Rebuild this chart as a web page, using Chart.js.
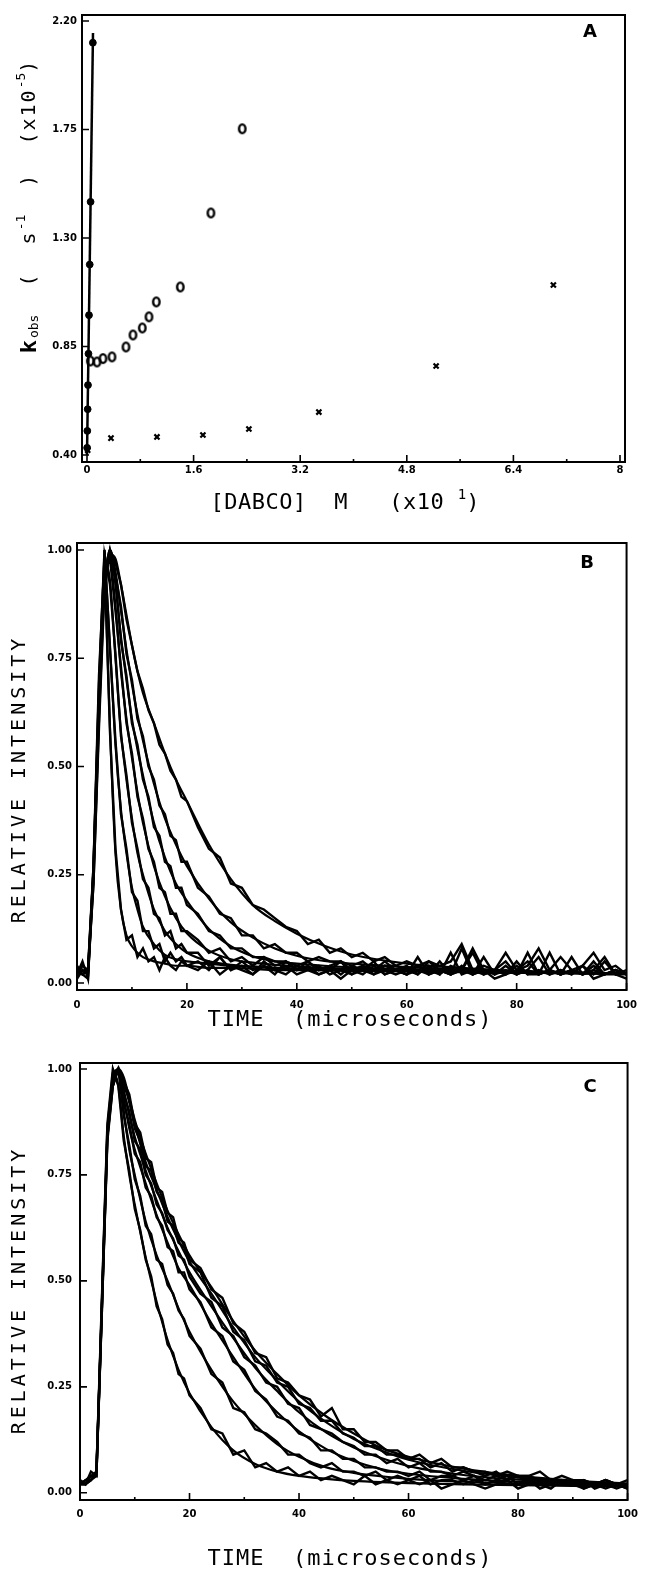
<!DOCTYPE html>
<html>
<head>
<meta charset="utf-8">
<script src="https://cdn.jsdelivr.net/npm/chart.js@4.4.1/dist/chart.umd.min.js"></script>
<style>
  html, body { margin: 0; padding: 0; background: #fff; }
  body { width: 646px; height: 1581px; position: relative; overflow: hidden; }
  .panel { position: absolute; left: 0; width: 646px; }
  .panel canvas { display: block; }
</style>
</head>
<body>
<div class="panel" style="top:0;height:520px"><canvas id="chartA"></canvas></div>
<div class="panel" style="top:520px;height:525px"><canvas id="chartB"></canvas></div>
<div class="panel" style="top:1045px;height:536px"><canvas id="chartC"></canvas></div>
<script>
// ---- panel A : kobs vs [DABCO] ----
const aXTicks = [0, 1.6, 3.2, 4.8, 6.4, 8];
const aYTicks = [0.40, 0.85, 1.30, 1.75, 2.20];
const aDotX = [0.002, 0.005, 0.010, 0.015, 0.022, 0.030, 0.041, 0.054, 0.088];
const aDotY = [0.43, 0.50, 0.59, 0.69, 0.82, 0.98, 1.19, 1.45, 2.11];
const aFitX = [0, 0.09];
const aFitY = [0.40, 2.15];
const aCircX = [0.05, 0.15, 0.24, 0.375, 0.585, 0.69, 0.83, 0.93, 1.04, 1.40, 1.86, 2.33];
const aCircY = [0.79, 0.786, 0.80, 0.807, 0.848, 0.898, 0.927, 0.973, 1.035, 1.097, 1.404, 1.753];
const aCrossX = [0.01, 0.36, 1.05, 1.74, 2.43, 3.48, 5.24, 7.0];
const aCrossY = [0.42, 0.47, 0.475, 0.483, 0.508, 0.578, 0.769, 1.105];

// ---- panels B and C : decay traces ----
const timeTicks = [0, 20, 40, 60, 80, 100];
const intensityTicks = [0, 0.25, 0.5, 0.75, 1.0];
const tData = [0,1,2,3,4,5,6,7,8,9,10,11,12,13,14,15,16,17,18,19,20,
  22,24,26,28,30,32,34,36,38,40,42,44,46,48,50,52,54,56,58,60,
  62,64,66,68,70,72,74,76,78,80,82,84,86,88,90,92,94,96,98,100];
const tFitB = [5,6,7,8,9,10,11,12,14,16,18,20,24,28,32,36,40,45,50,60,70,80,100];
const tFitC = [6,7,8,9,10,12,14,16,18,20,24,28,32,36,40,45,50,55,60,70,80,90,100];

const bTrace1 = [0.02,0.05,0.01,0.27,0.71,0.98,0.58,0.31,0.17,0.10,0.11,0.06,0.08,0.05,0.06,0.03,0.06,0.04,0.03,0.05,0.04,
  0.03,0.05,0.02,0.04,0.03,0.02,0.04,0.03,0.02,0.04,0.03,0.02,0.03,0.01,0.03,0.02,0.04,0.02,0.03,0.02,
  0.06,0.02,0.03,0.02,0.04,0.02,0.03,0.01,0.02,0.05,0.02,0.03,0.02,0.03,0.02,0.04,0.01,0.02,0.03,0.02];
const bTrace2 = [0.03,0.02,0.03,0.26,0.69,1.00,0.77,0.56,0.39,0.31,0.21,0.19,0.12,0.12,0.08,0.09,0.05,0.07,0.05,0.06,0.04,
  0.05,0.03,0.06,0.03,0.04,0.02,0.05,0.03,0.04,0.02,0.03,0.04,0.02,0.03,0.02,0.04,0.02,0.03,0.02,0.03,
  0.02,0.04,0.02,0.07,0.02,0.03,0.02,0.03,0.02,0.04,0.02,0.02,0.03,0.02,0.06,0.02,0.03,0.02,0.02,0.01];
const bTrace3 = [0.04,0.02,0.03,0.27,0.67,0.99,0.92,0.76,0.57,0.48,0.37,0.31,0.24,0.22,0.16,0.15,0.11,0.12,0.08,0.09,0.07,
  0.07,0.04,0.06,0.03,0.05,0.03,0.04,0.02,0.05,0.03,0.04,0.02,0.03,0.05,0.02,0.03,0.02,0.04,0.03,0.02,
  0.03,0.02,0.05,0.02,0.03,0.07,0.02,0.03,0.02,0.03,0.05,0.02,0.03,0.02,0.03,0.02,0.05,0.02,0.03,0.02];
const bTrace4 = [0.01,0.03,0.02,0.26,0.65,0.96,0.98,0.86,0.73,0.60,0.53,0.43,0.38,0.31,0.28,0.22,0.21,0.16,0.16,0.12,0.12,
  0.10,0.07,0.08,0.05,0.06,0.04,0.06,0.04,0.05,0.03,0.05,0.03,0.04,0.02,0.04,0.03,0.05,0.02,0.03,0.02,
  0.04,0.02,0.03,0.02,0.08,0.02,0.03,0.02,0.04,0.02,0.03,0.06,0.02,0.03,0.02,0.04,0.02,0.05,0.02,0.02];
const bTrace5 = [0.03,0.02,0.01,0.25,0.63,0.94,0.99,0.93,0.79,0.71,0.60,0.55,0.47,0.43,0.36,0.34,0.28,0.27,0.22,0.22,0.18,
  0.16,0.12,0.11,0.08,0.08,0.06,0.06,0.05,0.05,0.04,0.05,0.03,0.04,0.05,0.03,0.04,0.03,0.05,0.03,0.04,
  0.02,0.05,0.03,0.02,0.03,0.02,0.06,0.02,0.03,0.02,0.07,0.02,0.03,0.02,0.03,0.02,0.03,0.06,0.02,0.03];
const bTrace6 = [0.02,0.03,0.02,0.23,0.61,0.93,1.00,0.94,0.87,0.76,0.70,0.61,0.57,0.50,0.47,0.41,0.39,0.34,0.33,0.28,0.28,
  0.22,0.20,0.16,0.15,0.11,0.11,0.08,0.09,0.07,0.07,0.05,0.06,0.05,0.05,0.04,0.05,0.03,0.04,0.04,0.03,
  0.04,0.03,0.02,0.04,0.03,0.08,0.03,0.03,0.05,0.02,0.03,0.02,0.07,0.02,0.03,0.02,0.04,0.02,0.03,0.02];
const bTrace7 = [0.02,0.04,0.03,0.23,0.59,0.91,1.00,0.97,0.92,0.84,0.78,0.72,0.68,0.63,0.60,0.55,0.53,0.49,0.47,0.43,0.42,
  0.36,0.31,0.29,0.23,0.22,0.18,0.17,0.15,0.13,0.12,0.09,0.10,0.07,0.08,0.06,0.07,0.05,0.06,0.04,0.05,
  0.04,0.05,0.04,0.05,0.09,0.03,0.04,0.03,0.07,0.03,0.04,0.08,0.03,0.06,0.03,0.04,0.07,0.03,0.04,0.02];

const bFit1 = [0.98,0.59,0.30,0.17,0.11,0.085,0.07,0.06,0.05,0.045,0.04,0.04,0.035,0.035,0.033,0.03,0.03,0.03,0.028,0.027,0.025,0.024,0.022];
const bFit2 = [1.0,0.78,0.55,0.40,0.30,0.22,0.17,0.13,0.09,0.065,0.055,0.05,0.045,0.04,0.038,0.035,0.033,0.03,0.03,0.028,0.026,0.024,0.022];
const bFit3 = [0.98,0.93,0.75,0.58,0.47,0.38,0.30,0.25,0.17,0.12,0.09,0.07,0.05,0.042,0.038,0.035,0.033,0.031,0.03,0.028,0.026,0.024,0.022];
const bFit4 = [0.97,0.97,0.87,0.72,0.61,0.52,0.44,0.37,0.27,0.20,0.15,0.115,0.075,0.055,0.047,0.042,0.038,0.035,0.033,0.03,0.027,0.025,0.022];
const bFit5 = [0.93,1.0,0.92,0.80,0.70,0.61,0.54,0.48,0.37,0.29,0.23,0.19,0.125,0.085,0.062,0.05,0.045,0.04,0.036,0.032,0.028,0.025,0.022];
const bFit6 = [0.92,1.0,0.95,0.86,0.77,0.69,0.62,0.56,0.46,0.38,0.32,0.27,0.195,0.14,0.105,0.08,0.063,0.051,0.045,0.037,0.031,0.027,0.022];
const bFit7 = [0.90,0.99,0.98,0.92,0.85,0.78,0.72,0.67,0.60,0.53,0.47,0.42,0.32,0.24,0.18,0.143,0.114,0.086,0.066,0.045,0.035,0.028,0.022];

const cTrace1 = [0.02,0.03,0.04,0.05,0.46,0.87,1.00,0.96,0.83,0.76,0.67,0.62,0.55,0.51,0.44,0.41,0.35,0.33,0.28,0.27,0.23,
  0.20,0.15,0.14,0.09,0.10,0.06,0.07,0.05,0.06,0.04,0.05,0.03,0.04,0.03,0.02,0.04,0.02,0.03,0.02,0.03,
  0.02,0.03,0.01,0.02,0.03,0.02,0.01,0.02,0.03,0.01,0.02,0.02,0.01,0.03,0.02,0.01,0.02,0.01,0.02,0.01];
const cTrace2 = [0.02,0.02,0.03,0.04,0.45,0.86,0.99,1.00,0.89,0.82,0.74,0.70,0.63,0.61,0.55,0.54,0.49,0.47,0.43,0.41,0.37,
  0.34,0.28,0.26,0.20,0.19,0.15,0.14,0.12,0.09,0.09,0.07,0.06,0.07,0.05,0.05,0.04,0.05,0.03,0.04,0.03,
  0.04,0.02,0.03,0.03,0.02,0.03,0.02,0.03,0.02,0.02,0.03,0.01,0.02,0.02,0.03,0.01,0.02,0.02,0.01,0.02];
const cTrace3 = [0.03,0.02,0.05,0.04,0.44,0.85,0.98,1.00,0.92,0.87,0.80,0.78,0.72,0.70,0.65,0.63,0.58,0.57,0.52,0.52,0.48,
  0.45,0.39,0.37,0.31,0.29,0.24,0.22,0.18,0.17,0.14,0.13,0.10,0.10,0.08,0.08,0.06,0.06,0.05,0.05,0.04,
  0.05,0.03,0.04,0.04,0.03,0.04,0.02,0.03,0.04,0.02,0.03,0.02,0.03,0.02,0.02,0.03,0.01,0.02,0.02,0.01];
const cTrace4 = [0.02,0.03,0.03,0.05,0.44,0.84,0.97,1.00,0.94,0.90,0.83,0.81,0.75,0.73,0.68,0.66,0.62,0.60,0.56,0.55,0.51,
  0.47,0.45,0.39,0.37,0.32,0.30,0.26,0.25,0.21,0.20,0.16,0.15,0.14,0.12,0.11,0.09,0.09,0.07,0.08,0.06,
  0.07,0.05,0.05,0.04,0.05,0.04,0.03,0.04,0.03,0.04,0.03,0.02,0.03,0.02,0.03,0.02,0.02,0.03,0.02,0.02];
const cTrace5 = [0.02,0.02,0.04,0.04,0.43,0.84,0.96,1.00,0.96,0.93,0.86,0.83,0.77,0.76,0.71,0.69,0.64,0.63,0.59,0.58,0.54,
  0.52,0.46,0.44,0.38,0.36,0.31,0.30,0.26,0.25,0.21,0.20,0.17,0.17,0.14,0.13,0.11,0.11,0.09,0.09,0.08,
  0.08,0.06,0.07,0.05,0.06,0.05,0.04,0.05,0.03,0.04,0.04,0.03,0.03,0.02,0.03,0.03,0.02,0.03,0.02,0.02];
const cTrace6 = [0.03,0.02,0.03,0.05,0.43,0.83,0.96,1.00,0.97,0.94,0.87,0.85,0.79,0.78,0.72,0.71,0.66,0.65,0.60,0.59,0.55,
  0.53,0.48,0.46,0.40,0.38,0.33,0.32,0.27,0.26,0.23,0.22,0.18,0.20,0.15,0.15,0.12,0.12,0.10,0.10,0.08,
  0.09,0.07,0.08,0.06,0.06,0.05,0.05,0.04,0.05,0.04,0.04,0.05,0.03,0.04,0.03,0.03,0.02,0.03,0.02,0.03];

const cFit1 = [1.0,0.96,0.84,0.75,0.68,0.555,0.45,0.36,0.29,0.235,0.155,0.10,0.068,0.05,0.04,0.033,0.028,0.025,0.023,0.02,0.018,0.016,0.015];
const cFit2 = [0.99,1.0,0.90,0.81,0.75,0.64,0.56,0.50,0.435,0.38,0.29,0.215,0.16,0.115,0.085,0.06,0.047,0.039,0.033,0.026,0.022,0.019,0.016];
const cFit3 = [0.98,1.0,0.93,0.86,0.81,0.73,0.655,0.59,0.53,0.49,0.40,0.32,0.245,0.19,0.145,0.103,0.075,0.056,0.045,0.033,0.026,0.021,0.018];
const cFit4 = [0.97,1.0,0.95,0.89,0.84,0.76,0.69,0.625,0.57,0.52,0.44,0.365,0.295,0.24,0.19,0.142,0.107,0.082,0.063,0.042,0.031,0.024,0.019];
const cFit5 = [0.96,1.0,0.97,0.92,0.87,0.78,0.715,0.65,0.595,0.545,0.47,0.39,0.32,0.265,0.215,0.166,0.127,0.10,0.078,0.052,0.036,0.026,0.02];
const cFit6 = [0.96,1.0,0.98,0.93,0.88,0.80,0.73,0.665,0.61,0.56,0.485,0.405,0.335,0.28,0.23,0.18,0.14,0.106,0.085,0.057,0.04,0.029,0.022];

// ---- helpers ----
const MONO = '"DejaVu Sans Mono", monospace';
const tickFont = { family: '"DejaVu Sans"', size: 10, weight: 'bold' };

function pts(xs, ys) {
  return xs.map((x, i) => ({ x: x, y: ys[i] }));
}
function lineSet(xs, ys, w, smooth) {
  return {
    data: pts(xs, ys), showLine: true, borderColor: '#000', borderWidth: w,
    pointRadius: 0, tension: 0, fill: false,
    cubicInterpolationMode: smooth ? 'monotone' : 'default'
  };
}

// open "0"-shaped marker like the plotter used
function ovalMarker() {
  const c = document.createElement('canvas');
  c.width = 11; c.height = 13;
  const g = c.getContext('2d');
  g.strokeStyle = '#000'; g.lineWidth = 2.4;
  g.beginPath(); g.ellipse(5.5, 6.5, 3.2, 4.4, 0, 0, Math.PI * 2); g.stroke();
  return c;
}

function drawRich(ctx, pieces, cx, cy, rotate) {
  ctx.save();
  ctx.translate(cx, cy);
  if (rotate) ctx.rotate(-Math.PI / 2);
  let total = 0;
  pieces.forEach(p => {
    ctx.font = p.font; ctx.letterSpacing = p.ls || '0px';
    p.w = ctx.measureText(p.text).width; total += p.w;
  });
  let x = -total / 2;
  ctx.textAlign = 'left'; ctx.textBaseline = 'middle'; ctx.fillStyle = '#000';
  pieces.forEach(p => {
    ctx.font = p.font; ctx.letterSpacing = p.ls || '0px';
    ctx.fillText(p.text, x, p.dy || 0);
    x += p.w;
  });
  ctx.restore();
}

const big = '20px ' + MONO, small = '13px ' + MONO;
const panelText = {
  A: {
    letter: ['A', 590, 32],
    xTitle: [[{ text: '[DABCO]  M   (x10 ', font: '22px ' + MONO, ls: '0.5px' },
              { text: '1', font: '14px ' + MONO, dy: -8 },
              { text: ')', font: '22px ' + MONO }], 345, 503],
    yTitle: [[{ text: 'k', font: 'bold 22px ' + MONO, ls: '2px' },
              { text: 'obs', font: small, dy: 5 },
              { text: '  (  s', font: big, ls: '2px' },
              { text: '-1', font: small, dy: -8 },
              { text: '  )  (x10', font: big, ls: '2px' },
              { text: '-5', font: small, dy: -8 },
              { text: ')', font: big }], 30, 207]
  },
  B: {
    letter: ['B', 587, 43],
    xTitle: [[{ text: 'TIME  (microseconds)', font: '22px ' + MONO, ls: '1px' }], 350, 500],
    yTitle: [[{ text: 'RELATIVE INTENSITY', font: '20px ' + MONO, ls: '4px' }], 20, 259]
  },
  C: {
    letter: ['C', 590, 42],
    xTitle: [[{ text: 'TIME  (microseconds)', font: '22px ' + MONO, ls: '1px' }], 350, 514],
    yTitle: [[{ text: 'RELATIVE INTENSITY', font: '20px ' + MONO, ls: '4px' }], 20, 245]
  }
};

// box round the plot, inward tick marks, titles and panel letter
const framePlugin = {
  id: 'frame',
  afterDatasetsDraw(chart, args, opts) {
    const { ctx, chartArea: a } = chart;
    const x = chart.scales.x, y = chart.scales.y;
    ctx.save();
    ctx.strokeStyle = '#000';
    ctx.lineWidth = 2;
    ctx.strokeRect(a.left, a.top, a.right - a.left, a.bottom - a.top);
    ctx.lineWidth = 1.6;
    ctx.beginPath();
    x.ticks.forEach(t => {
      const px = x.getPixelForValue(t.value);
      ctx.moveTo(px, a.bottom); ctx.lineTo(px, a.bottom - 7);
    });
    y.ticks.forEach(t => {
      const py = y.getPixelForValue(t.value);
      ctx.moveTo(a.left, py); ctx.lineTo(a.left + 7, py);
    });
    const step = x.ticks[1].value - x.ticks[0].value;
    x.ticks.slice(1).forEach(t => {
      const px = x.getPixelForValue(t.value - step / 2);
      ctx.moveTo(px, a.bottom); ctx.lineTo(px, a.bottom - 3);
    });
    ctx.stroke();
    ctx.restore();
  },
  afterDraw(chart, args, opts) {
    const txt = panelText[opts.key];
    const ctx = chart.ctx;
    drawRich(ctx, txt.xTitle[0], txt.xTitle[1], txt.xTitle[2], false);
    drawRich(ctx, txt.yTitle[0], txt.yTitle[1], txt.yTitle[2], true);
    ctx.save();
    ctx.font = 'bold 18px "DejaVu Sans"';
    ctx.textAlign = 'center'; ctx.textBaseline = 'middle'; ctx.fillStyle = '#000';
    ctx.fillText(txt.letter[0], txt.letter[1], txt.letter[2]);
    ctx.restore();
  }
};

function makeOptions(o) {
  return {
    responsive: true, maintainAspectRatio: false, animation: false,
    layout: { padding: { left: 0, right: o.padRight, top: o.padTop, bottom: 0 } },
    plugins: { legend: { display: false }, tooltip: { enabled: false }, frame: { key: o.key } },
    scales: {
      x: {
        type: 'linear', min: o.xMin, max: o.xMax,
        afterBuildTicks: s => { s.ticks = o.xTicks.map(v => ({ value: v })); },
        afterFit: s => { s.height = o.xHeight; },
        grid: { display: false, drawTicks: false }, border: { display: false },
        ticks: { autoSkip: false, maxRotation: 0, padding: o.xPad, color: '#000', font: tickFont,
                 callback: v => String(v) }
      },
      y: {
        type: 'linear', min: o.yMin, max: o.yMax,
        afterBuildTicks: s => { s.ticks = o.yTicks.map(v => ({ value: v })); },
        afterFit: s => { s.width = o.yWidth; },
        grid: { display: false, drawTicks: false }, border: { display: false },
        ticks: { autoSkip: false, padding: o.yPad, color: '#000', font: tickFont,
                 callback: v => v.toFixed(2) }
      }
    }
  };
}

// ---- chart A ----
new Chart(document.getElementById('chartA'), {
  type: 'scatter',
  data: {
    datasets: [
      lineSet(aFitX, aFitY, 2.5, false),
      { data: pts(aDotX, aDotY), pointStyle: 'circle', pointRadius: 3.4, backgroundColor: '#000', borderColor: '#000' },
      { data: pts(aCircX, aCircY), pointStyle: ovalMarker(), pointRadius: 5 },
      { data: pts(aCrossX, aCrossY), pointStyle: 'crossRot', pointRadius: 3.6, borderColor: '#000', borderWidth: 2.2 }
    ]
  },
  options: makeOptions({ key: 'A', padRight: 21, padTop: 15, xHeight: 58, yWidth: 82, xPad: 2, yPad: 5,
    xMin: -0.075, xMax: 8.075, yMin: 0.371, yMax: 2.225, xTicks: aXTicks, yTicks: aYTicks }),
  plugins: [framePlugin]
});

// ---- chart B ----
const bTraces = [bTrace1, bTrace2, bTrace3, bTrace4, bTrace5, bTrace6, bTrace7];
const bFits = [bFit1, bFit2, bFit3, bFit4, bFit5, bFit6, bFit7];
new Chart(document.getElementById('chartB'), {
  type: 'scatter',
  data: {
    datasets: bTraces.map(tr => lineSet(tData, tr, 2.4, false))
      .concat(bFits.map(f => lineSet(tFitB, f, 2.2, true)))
  },
  options: makeOptions({ key: 'B', padRight: 11, padTop: 23, xHeight: 55, yWidth: 77, xPad: 9, yPad: 5,
    xMin: 0, xMax: 100, yMin: -0.016, yMax: 1.016, xTicks: timeTicks, yTicks: intensityTicks }),
  plugins: [framePlugin]
});

// ---- chart C ----
const cTraces = [cTrace1, cTrace2, cTrace3, cTrace4, cTrace5, cTrace6];
const cFits = [cFit1, cFit2, cFit3, cFit4, cFit5, cFit6];
new Chart(document.getElementById('chartC'), {
  type: 'scatter',
  data: {
    datasets: cTraces.map(tr => lineSet(tData, tr, 2.4, false))
      .concat(cFits.map(f => lineSet(tFitC, f, 2.2, true)))
  },
  options: makeOptions({ key: 'C', padRight: 8, padTop: 18, xHeight: 81, yWidth: 80, xPad: 8, yPad: 8,
    xMin: 0, xMax: 100, yMin: -0.017, yMax: 1.014, xTicks: timeTicks, yTicks: intensityTicks }),
  plugins: [framePlugin]
});
</script>
</body>
</html>
